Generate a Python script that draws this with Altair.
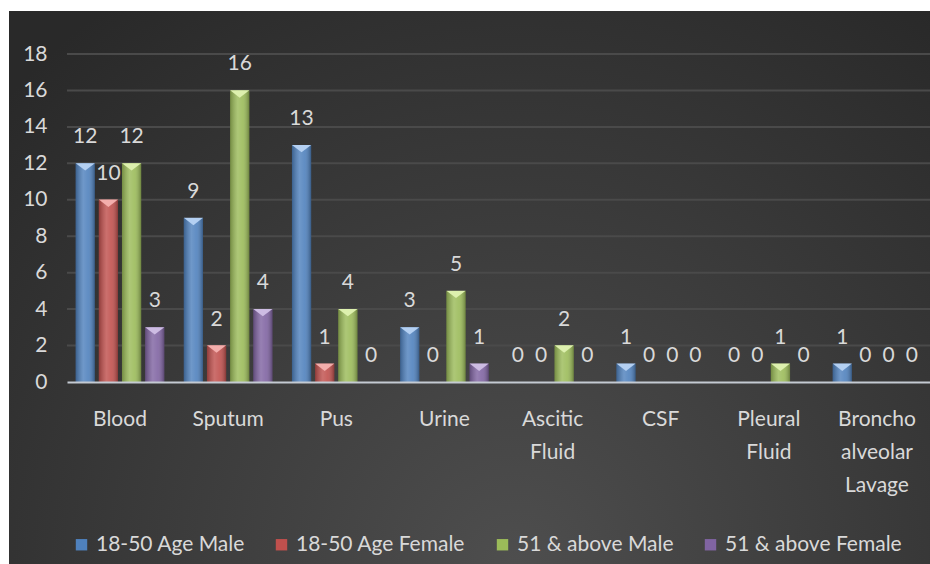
import altair as alt
import pandas as pd

samples = ["Blood", "Sputum", "Pus", "Urine", "Ascitic\nFluid", "CSF", "Pleural\nFluid", "Broncho\nalveolar\nLavage"]
groups = ["18-50 Age Male", "18-50 Age Female", "51 & above Male", "51 & above Female"]
male_18_50 = [12, 9, 13, 3, 0, 1, 0, 1]
female_18_50 = [10, 2, 1, 0, 0, 0, 0, 0]
male_51 = [12, 16, 4, 5, 2, 0, 1, 0]
female_51 = [3, 4, 0, 1, 0, 0, 0, 0]
y_ticks = [0, 2, 4, 6, 8, 10, 12, 14, 16, 18]

bar_colors = ["#4F81BD", "#C0504D", "#9BBB59", "#8064A2"]
tip_colors = ["#B4D0F2", "#F3AEAC", "#DDF0AE", "#CDBCE3"]

rows = []
for g, vals in zip(groups, [male_18_50, female_18_50, male_51, female_51]):
    for s, v in zip(samples, vals):
        rows.append({"Sample": s, "Group": g, "Count": v})
df = pd.DataFrame(rows)

FONT = "Lato, sans-serif"
TXT = "#D9D9D9"
W, H = 863, 328

x_enc = alt.X(
    "Sample:N", sort=samples, title=None,
    scale=alt.Scale(paddingInner=0.18, paddingOuter=0.08),
    axis=alt.Axis(
        labelExpr="split(datum.label, '\\n')", labelAngle=0, ticks=False,
        domainColor="#C4CAD2", domainWidth=2, labelColor=TXT, labelFont=FONT,
        labelFontSize=21, labelPadding=26, labelLineHeight=33, labelBaseline="top",
        grid=False, zindex=1, labelOverlap=False, labelLimit=0,
    ),
)
xo_enc = alt.XOffset("Group:N", sort=groups, scale=alt.Scale(paddingInner=0.17, paddingOuter=0))
y_scale = alt.Scale(domain=[0, 18], nice=False)
y_axis = alt.Axis(values=y_ticks, grid=False, domain=False, ticks=False, labelColor=TXT,
                  labelFont=FONT, labelFontSize=21, labelPadding=20, zindex=1,
                  labelOverlap=False, labelFlush=False, labelBound=False)
y_enc = alt.Y("Count:Q", scale=y_scale, title=None, axis=y_axis)

bg = alt.Chart(alt.Data(values=[{"a": 1}])).mark_rect(
    color=alt.Gradient(
        gradient="radial",
        stops=[alt.GradientStop(offset=0, color="#4E4E4E"),
               alt.GradientStop(offset=1, color="#292929")],
        x1=0.55, y1=0.8, x2=0.55, y2=0.8, r1=0, r2=0.75,
    )
).encode(x=alt.value(-58), x2=alt.value(W), y=alt.value(-43), y2=alt.value(510))

grid = alt.Chart(pd.DataFrame({"t": y_ticks[1:]})).mark_rule(
    color="#4A4A4A", strokeWidth=2
).encode(y=alt.Y("t:Q", scale=y_scale, title=None, axis=y_axis), x=alt.value(0), x2=alt.value(W))

base = alt.Chart(df)

bars = base.mark_bar().encode(
    x=x_enc, xOffset=xo_enc, y=y_enc,
    color=alt.Color("Group:N", sort=groups, scale=alt.Scale(domain=groups, range=bar_colors),
                    legend=alt.Legend(
                        title=None, orient="none", legendX=4, legendY=480, direction="horizontal",
                        symbolType="square", symbolSize=130, symbolStrokeWidth=0,
                        labelColor=TXT, labelFont=FONT, labelFontSize=21, labelLimit=0,
                        labelOffset=4, columnPadding=26,
                    )),
)

shade = base.mark_bar(
    color=alt.Gradient(
        gradient="linear",
        stops=[alt.GradientStop(offset=0, color="rgba(0,0,0,0.25)"),
               alt.GradientStop(offset=0.4, color="rgba(255,255,255,0.18)"),
               alt.GradientStop(offset=0.65, color="rgba(255,255,255,0.10)"),
               alt.GradientStop(offset=1, color="rgba(0,0,0,0.30)")],
        x1=0, x2=1, y1=0, y2=0,
    )
).encode(x=x_enc, xOffset=xo_enc, y=y_enc)

tips = base.transform_filter("datum.Count > 0").mark_point(
    shape="M-1,-0.02L1,-0.02L0,0.75Z", filled=True, size=368, opacity=1, strokeWidth=0
).encode(
    x=x_enc, xOffset=xo_enc, y=y_enc,
    fill=alt.Fill("Group:N", sort=groups, scale=alt.Scale(domain=groups, range=tip_colors), legend=None),
)

labels = base.mark_text(
    dy=-26, baseline="middle", font=FONT, fontSize=21, color=TXT
).encode(x=x_enc, xOffset=xo_enc, y=y_enc, text="Count:Q")

chart = alt.layer(bg, grid, bars, shade, tips, labels).properties(
    width=W, height=H,
    padding={"left": 67, "top": 54, "right": 0, "bottom": 182},
    autosize="none",
    background="white",
).configure_view(stroke=None)

chart.save("out.html", embed_options={"renderer": "svg", "actions": False})
